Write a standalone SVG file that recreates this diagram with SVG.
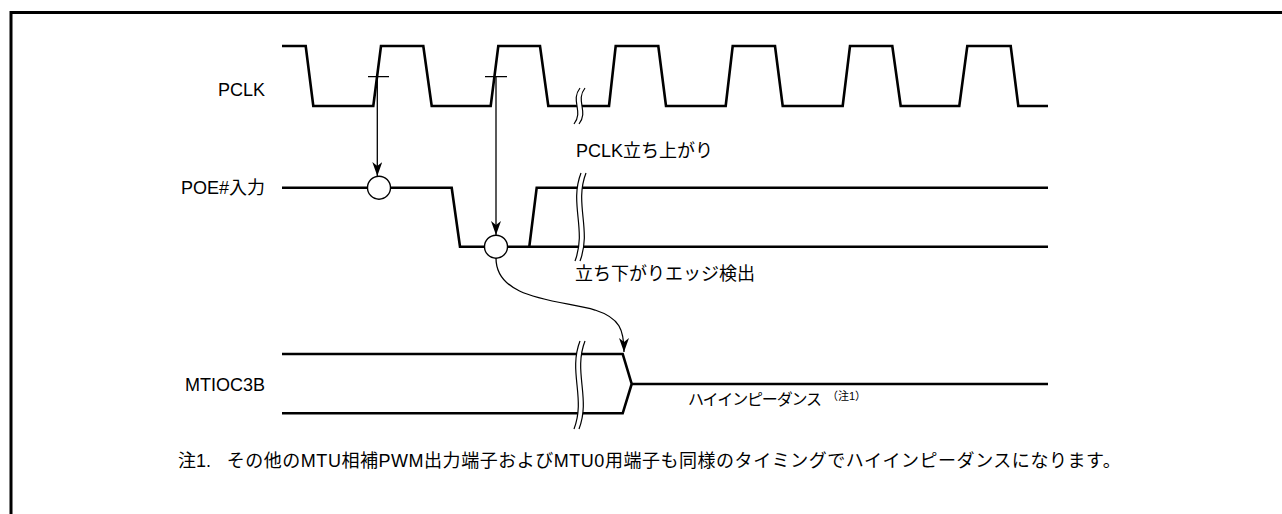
<svg xmlns="http://www.w3.org/2000/svg" width="1282" height="514" viewBox="0 0 1282 514">
<style>
.sig{fill:none;stroke:#000;stroke-width:2.6;stroke-linejoin:miter}
.thin{fill:none;stroke:#000;stroke-width:1.3}
.brk{fill:#fff;stroke:none}
.brkl{fill:none;stroke:#000;stroke-width:1.2}
.circ{fill:#fff;stroke:#000;stroke-width:1.4}
text{font-family:"Liberation Sans","Noto Sans CJK JP",sans-serif;fill:#000}
.lbl{font-size:18px}
</style>
<defs>
<marker id="ah" viewBox="0 0 14 10" refX="14" refY="5" markerWidth="14" markerHeight="10" orient="auto" markerUnits="userSpaceOnUse">
<path d="M0,0 L14,5 L0,10 L4,5 z" fill="#000"/>
</marker>
</defs>
<rect width="1282" height="514" fill="#fff"/>
<path d="M11,514 V12.5 H1282" fill="none" stroke="#000" stroke-width="3"/>

<g id="pclk">
<text class="lbl" x="265" y="95.5" text-anchor="end">PCLK</text>
<path class="sig" d="M282,46 H305.7 L313.3,106 H373.3 L381,46 H423.3 L431.7,106 H490.7 L498.3,46 H540 L548.3,106 H609 L615.7,46 H658.3 L666,106 H725.7 L732.7,46 H775 L782.7,106 H842.7 L850,46 H892.3 L900.7,106 H959.3 L967.3,46 H1010.7 L1018.3,106 H1048"/>
<path class="brk" d="M580,88 C570,100.9 584,111.1 574,124 L579,124 C589,111.1 575,100.9 585,88 Z"/>
<path class="brkl" d="M580,88 C570,100.9 584,111.1 574,124 M585,88 C575,100.9 589,111.1 579,124"/>
<path class="thin" d="M368,76.7 H389 M485,76.7 H507"/>
</g>

<g id="poe">
<text class="lbl" x="265" y="194" text-anchor="end">POE#入力</text>
<path class="sig" d="M282,187.7 H451.7 L460,246.7 H1048"/>
<path class="sig" d="M529.3,246.7 L536.7,187.7 H1048"/>
<path class="brk" d="M581,173 C569,203.8 587,230.2 575,261 L580,261 C592,230.2 574,203.8 586,173 Z"/>
<path class="brkl" d="M581,173 C569,203.8 587,230.2 575,261 M586,173 C574,203.8 592,230.2 580,261"/>
<circle class="circ" cx="379" cy="187.7" r="11.5"/>
<circle class="circ" cx="496" cy="246.7" r="11.5"/>
<text class="lbl" x="576" y="157">PCLK立ち上がり</text>
<text class="lbl" x="575" y="280">立ち下がりエッジ検出</text>
</g>

<g id="mtioc3b">
<text class="lbl" x="265" y="391" text-anchor="end">MTIOC3B</text>
<path class="sig" d="M282,354 H622.7 L631.7,384 L622.7,413.3 H282"/>
<path class="sig" d="M631.7,384 H1048"/>
<path class="brk" d="M580,341 C568,371.8 586,398.2 574,429 L579,429 C591,398.2 573,371.8 585,341 Z"/>
<path class="brkl" d="M580,341 C568,371.8 586,398.2 574,429 M585,341 C573,371.8 591,398.2 579,429"/>
<text x="688" y="405" font-size="16" textLength="134" lengthAdjust="spacing">ハイインピーダンス</text>
<text x="827" y="400" font-size="11">（注1）</text>
</g>

<g id="connectors">
<path class="thin" d="M377.3,76.7 V176" marker-end="url(#ah)"/>
<path class="thin" d="M496,76.7 V235" marker-end="url(#ah)"/>
<path class="thin" d="M496,258.2 C496,300 560,300 595,310 C620,318 624,330 624,352" marker-end="url(#ah)"/>
</g>

<g id="note">
<text class="lbl" x="178" y="467">注1.</text>
<text class="lbl" x="226.7" y="467" textLength="894" lengthAdjust="spacing">その他のMTU相補PWM出力端子およびMTU0用端子も同様のタイミングでハイインピーダンスになります。</text>
</g>
</svg>
